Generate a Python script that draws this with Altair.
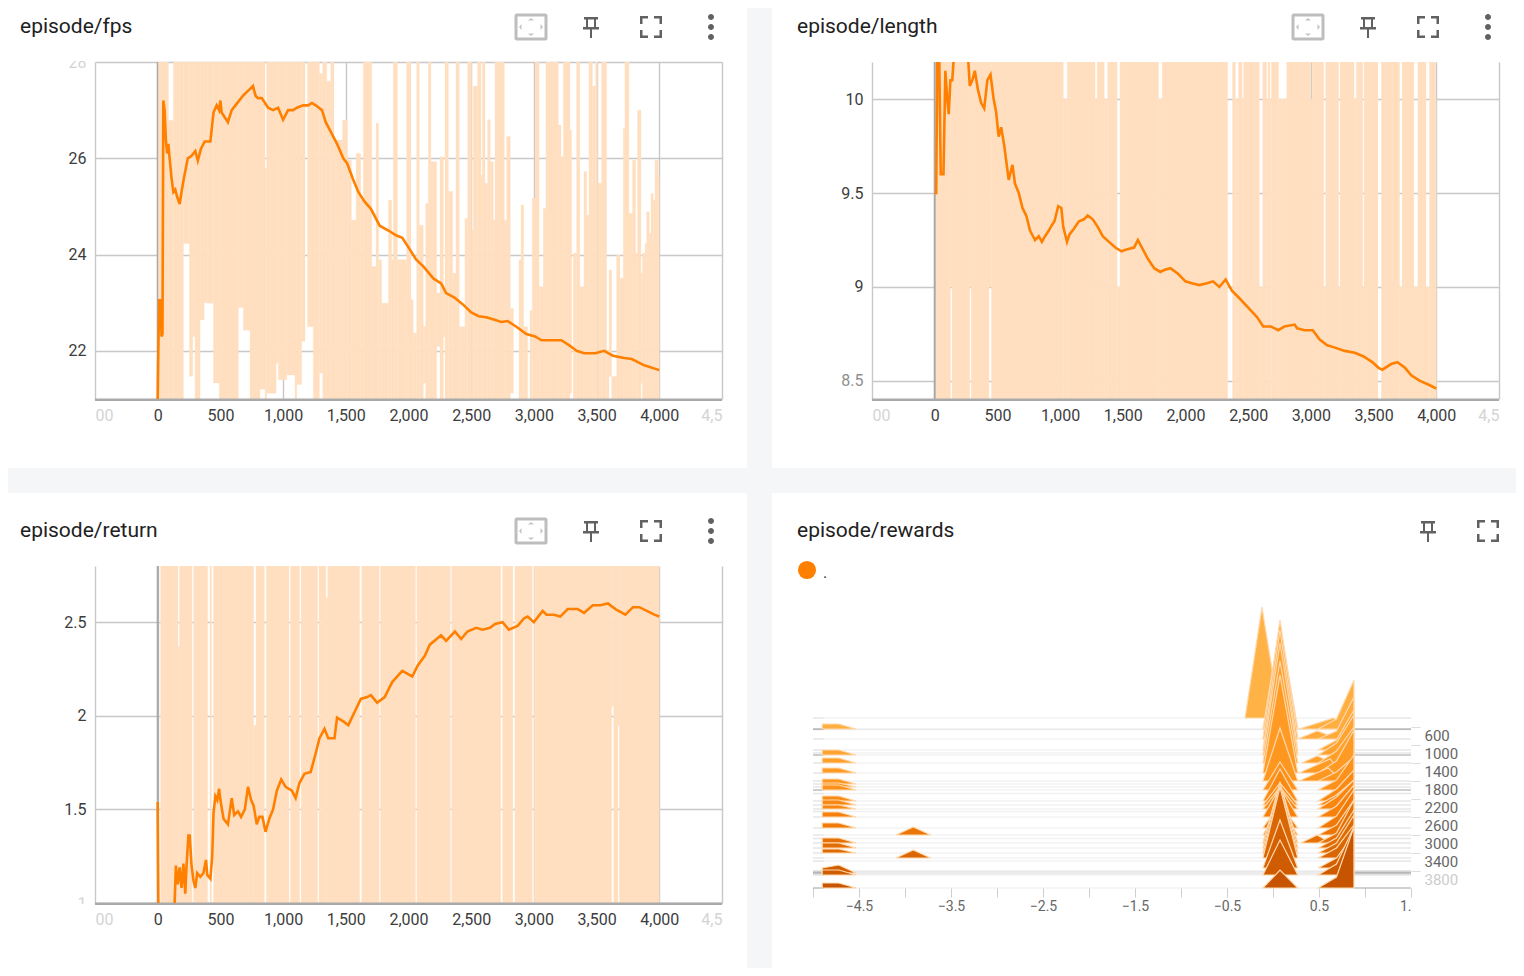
import altair as alt
import pandas as pd

FONT = "Roboto"
ORANGE = "#ff8000"
PALE = "#ffdfc0"
GRID = "#c8c8c8"
GAP = "#f5f6f7"

# ---------- smoothed lines (step, value) ----------
FPS_LINE = [(0,21.0),(5,22.0),(12,23.05),(25,23.05),(30,22.3),(38,22.35),(45,27.2),(55,27.0),(65,26.4),(75,26.1),(85,26.3),(95,26.0),(110,25.6),(125,25.3),(140,25.35),(155,25.2),(175,25.05),(190,25.3),(210,25.6),(240,26.0),(270,26.05),(300,26.15),(320,25.95),(345,26.2),(375,26.35),(420,26.35),(445,26.95),(470,27.1),(490,27.0),(500,27.2),(510,26.95),(560,26.75),(590,27.0),(620,27.1),(680,27.3),(720,27.4),(760,27.5),(780,27.3),(800,27.25),(830,27.25),(880,27.05),(920,27.0),(960,27.05),(1000,26.8),(1040,27.0),(1080,27.0),(1110,27.05),(1160,27.1),(1200,27.1),(1230,27.15),(1260,27.1),(1310,27.0),(1340,26.75),(1390,26.5),(1430,26.3),(1480,26.0),(1510,25.9),(1560,25.55),(1600,25.3),(1650,25.1),(1700,24.95),(1770,24.6),(1840,24.5),(1900,24.4),(1950,24.35),(2000,24.15),(2060,23.9),(2120,23.75),(2200,23.5),(2260,23.4),(2300,23.2),(2370,23.1),(2440,22.95),(2500,22.8),(2560,22.72),(2620,22.7),(2680,22.65),(2740,22.6),(2790,22.62),(2860,22.5),(2940,22.35),(3010,22.3),(3060,22.22),(3130,22.22),(3220,22.22),(3290,22.1),(3340,22.0),(3400,21.95),(3490,21.95),(3560,22.0),(3630,21.9),(3720,21.85),(3780,21.83),(3880,21.7),(4000,21.6)]
LEN_LINE = [(0,9.5),(12,9.5),(22,10.3),(35,10.3),(48,9.6),(70,9.6),(85,10.15),(100,10.0),(112,9.92),(125,10.1),(140,10.1),(150,10.2),(160,10.3),(250,10.3),(268,10.2),(280,10.07),(300,10.1),(320,10.15),(345,10.05),(370,9.98),(395,9.95),(420,10.1),(445,10.13),(470,10.0),(490,9.93),(510,9.8),(530,9.85),(555,9.75),(590,9.57),(620,9.65),(640,9.55),(670,9.5),(700,9.42),(730,9.38),(760,9.3),(800,9.25),(830,9.27),(855,9.24),(880,9.27),(910,9.3),(935,9.33),(955,9.35),(985,9.43),(1010,9.42),(1025,9.32),(1055,9.24),(1075,9.28),(1110,9.31),(1150,9.35),(1190,9.36),(1220,9.38),(1260,9.36),(1300,9.32),(1340,9.27),(1390,9.24),(1440,9.21),(1490,9.19),(1530,9.2),(1590,9.21),(1620,9.25),(1660,9.2),(1700,9.15),(1750,9.1),(1800,9.08),(1830,9.09),(1880,9.1),(1940,9.07),(2000,9.03),(2050,9.02),(2110,9.01),(2170,9.02),(2220,9.03),(2270,9.0),(2320,9.04),(2370,8.98),(2430,8.94),(2500,8.89),(2570,8.84),(2620,8.79),(2680,8.79),(2740,8.77),(2790,8.79),(2870,8.8),(2890,8.78),(2950,8.77),(3015,8.77),(3070,8.72),(3130,8.69),(3180,8.68),(3270,8.66),(3350,8.65),(3420,8.63),(3490,8.6),(3540,8.57),(3570,8.56),(3640,8.59),(3690,8.6),(3750,8.57),(3800,8.53),(3870,8.5),(3940,8.48),(4000,8.46)]
RET_LINE = [(0,1.54),(6,0.9),(125,0.9),(135,1.0),(145,1.2),(160,1.1),(175,1.19),(190,1.08),(205,1.21),(220,1.05),(230,1.2),(245,1.36),(255,1.36),(270,1.2),(285,1.12),(300,1.08),(315,1.16),(340,1.14),(365,1.16),(385,1.23),(395,1.15),(420,1.13),(435,1.25),(445,1.48),(460,1.57),(475,1.55),(490,1.61),(500,1.55),(525,1.45),(560,1.42),(590,1.56),(610,1.47),(640,1.49),(665,1.46),(695,1.5),(720,1.62),(745,1.55),(765,1.52),(790,1.42),(810,1.46),(835,1.46),(860,1.38),(890,1.45),(920,1.5),(950,1.6),(985,1.66),(1020,1.62),(1070,1.6),(1100,1.56),(1130,1.64),(1170,1.69),(1220,1.7),(1260,1.8),(1290,1.88),(1330,1.93),(1360,1.88),(1410,1.88),(1430,1.99),(1480,1.97),(1520,1.95),(1570,2.02),(1620,2.09),(1670,2.1),(1700,2.11),(1750,2.07),(1810,2.1),(1870,2.18),(1950,2.24),(2030,2.21),(2075,2.27),(2130,2.32),(2170,2.38),(2260,2.43),(2300,2.4),(2370,2.45),(2420,2.41),(2470,2.45),(2540,2.47),(2590,2.46),(2650,2.47),(2690,2.49),(2750,2.5),(2800,2.46),(2870,2.48),(2920,2.52),(2950,2.53),(3000,2.5),(3070,2.56),(3100,2.54),(3160,2.54),(3210,2.53),(3270,2.57),(3350,2.57),(3400,2.55),(3470,2.59),(3530,2.59),(3590,2.6),(3650,2.57),(3730,2.54),(3790,2.58),(3840,2.58),(3900,2.56),(3960,2.54),(4000,2.53)]

# ---------- raw (unsmoothed) envelope: from step, to step, high, low ----------
FPS_RAW = [(5,85,29,20),(85,125,26.79,20),(125,205,29,20),(205,253,29,24.23),(253,279,29,21.47),(279,298,29,22.3),(298,338,29,20),(338,370,29,22.64),(370,396,29,23.0),(396,444,29,22.99),(444,492,29,21.33),(492,643,29,20),(643,683,29,22.9),(683,736,29,22.43),(736,816,29,20),(816,856,29,21.2),(856,869,25.8,21),(869,944,29,21.12),(944,962,29,21.74),(962,1029,29,21.4),(1029,1095,29,21.5),(1095,1109,29,21.0),(1109,1148,29,21.3),(1148,1175,29,22.2),(1194,1241,29,22.5),(1241,1289,29,20),(1289,1316,27.76,21.54),(1316,1348,29,20),(1348,1380,27.6,20),(1380,1406,29,20),(1406,1475,26.38,20),(1475,1513,26.79,20),(1513,1544,25.96,20),(1544,1582,24.72,20),(1582,1619,26.1,20),(1619,1640,25.13,20),(1640,1707,29,20),(1707,1741,23.75,20),(1741,1762,26.73,20),(1762,1786,23.89,20),(1786,1840,22.99,20),(1840,1866,25.13,20),(1866,1879,23.89,20),(1879,1911,29,20),(1911,1985,23.89,20),
(1985,2020,29,20),(2020,2038,23.06,20),(2038,2065,22.37,20),(2065,2086,29,20),(2086,2118,24.61,20),(2118,2137,22.5,21.33),(2137,2158,25.06,20),(2158,2179,29,20),(2179,2225,25.93,20),(2225,2251,23.2,22.09),(2251,2278,26.03,20),(2278,2291,23.33,22.3),(2291,2318,29,20),(2318,2352,25.31,20),(2352,2379,23.61,20),(2379,2405,29,20),(2405,2450,22.5,20),(2450,2472,24.75,20),(2472,2504,29,20),(2504,2517,24.51,20),(2517,2551,27.5,20),(2551,2578,29,20),(2578,2589,25.65,20),(2589,2610,29,20),(2610,2631,25.48,20),(2631,2652,26.8,20),(2652,2676,25.93,20),(2676,2690,24.72,20),(2690,2764,29,20),(2764,2783,24.72,20),(2783,2812,26.45,20),(2812,2836,22.88,21.12),(2881,2897,23.89,20),(2897,2918,25.03,20),(2918,2950,22.5,20),(2969,2987,22.84,20),(2987,3009,25.17,20),(3009,3041,29,20),(3041,3075,23.33,20),(3075,3096,24.96,20),(3096,3195,29,20),(3195,3216,26.69,20),(3216,3235,26.03,20),(3235,3288,29,20),(3288,3301,26.59,21.12),(3314,3341,24.03,20),(3341,3367,29,20),(3367,3399,23.33,20),(3399,3421,25.72,20),(3421,3439,24.82,20),(3439,3466,29,20),(3466,3492,27.5,20),(3492,3508,29,20),(3508,3540,25.48,20),(3540,3580,29,20),(3580,3599,22.02,20),(3599,3620,23.68,21.47),(3620,3660,21.47,20),(3660,3686,23.99,20),(3686,3713,23.51,20),(3713,3726,26.62,20),(3726,3758,29,20),(3758,3787,24.86,20),(3787,3811,25.96,20),(3811,3827,24.03,20),(3827,3854,27.0,20),(3854,3865,23.61,21.33),(3865,3886,24.03,20),(3886,3899,24.23,20),(3899,3920,24.89,20),(3920,3934,24.44,20),(3934,3952,25.27,20),(3952,3966,25.13,20),(3966,3992,25.96,20),(3992,4000,25.62,20)]

# breaks in the raw envelope: from step, to step, lowest and highest value left empty
LEN_BREAKS = [(126,138,8,9),(280,291,8,9),(433,452,8,9),(1026,1057,10,11),(1279,1295,10,11),(1352,1379,10,11),(1455,1478,9,11),(1785,1815,10,11),(2336,2375,8,11),(2398,2424,10,11),(2451,2463,10,11),(2589,2616,9,11),(2647,2658,10,11),(2673,2685,10,11),(2742,2807,10,11),(2999,3010,10,11),(3102,3118,9,11),(3221,3233,9,11),(3344,3363,10,11),(3413,3424,9,11),(3535,3562,8,11),(3707,3727,9,11),(3822,3853,9,11),(3918,3945,9,11),(3995,4000,10,11)]
RET_BREAKS = [(162,174,2.37,3.5),(274,286,0.5,3.5),(398,417,0.5,3.5),(429,444,0.5,3.5),(765,784,1.95,3.5),(850,866,0.5,3.5),(1047,1059,0.5,3.5),(1132,1144,0.5,3.5),(1275,1286,0.5,3.5),(1341,1356,2.63,3.5),(1611,1627,0.5,3.5),(1766,1777,0.5,3.5),(2056,2067,0.5,3.5),(2334,2345,0.5,3.5),(2736,2751,0.5,3.5),(2832,2848,0.5,3.5),(2987,3002,0.5,3.5),(3620,3636,0.5,2.05),(3670,3682,0.5,1.95)]

# ---------- histogram values ----------
HIST_STEPS  = [467,689,933,1044,1222,1444,1622,1822,2067,2156,2244,2422,2667,2822,3000,3111,3222,3333,3556,3711,4000]
CENTER      = [105,119,120,112,102,98,53,28,32,22,22,30,25,30,60,65,65,71,48,35,18]
RIGHT_KINK  = [10,8,10,12,12,12,9,10,12,10,12,11,12,10,10,10,10,10,10,11,11]
RIGHT_PEAK  = [49,42,40,40,36,43,24,35,31,25,29,32,38,35,43,38,38,33,34,48,61]
SPIKE       = (222, -0.304, -0.12, 0.076, 111)
SHOULDERS   = [(467,0.28,0.66,0.8,11),(689,0.27,0.48,0.72,8),(1222,0.31,0.48,0.66,7),(1444,0.28,0.62,0.75,14),(1622,0.28,0.6,0.75,13),(3000,0.3,0.48,0.63,8)]
LEFT_STEPS  = [467,1044,1222,1444,1689,1756,1822,2067,2156,2244,2422,2667,3000,3111,3222,3667,3711,4000]
LEFT_H      = [5,5,5,5,5,4,5,5,5,4,5,5,5,5,4,8,5,5]
THIRD_STEPS = [2822,3333]
THIRD_H     = [8,8]
FAINT_STEPS = [222,467,478,689,933,1000,1044,1222,1444,1622,1689,1756,1822,1900,2067,2156,2244,2300,2422,2667,2822,2900,3000,3111,3222,3333,3400,3620,3640,3667,3680,3711,4000]
DARK_STEPS  = [467,1044,1822,3660,4000]
RIGHT_LABELS = [600,1000,1400,1800,2200,2600,3000,3400,3800]

X_TICKS = [-500,0,500,1000,1500,2000,2500,3000,3500,4000,4500]

PATH_FIT = "M-14,-12H14Q15,-12 15,-11V11Q15,12 14,12H-14Q-15,12 -15,11V-11Q-15,-12 -14,-12Z"
PATH_FIT_ARROWS = "M-3,-6.5L3,-6.5L0,-9ZM-3,6.5L3,6.5L0,9ZM-9.5,-3L-9.5,3L-12,0ZM9.5,-3L9.5,3L12,0Z"
PATH_PIN = "M-7,-10H7V-7.5H5V0H8V2.5H1V11H-1V2.5H-8V0H-5V-7.5H-7ZM-3,-7.5V0H3V-7.5Z"
PATH_FULL = "M-11,-11H-3V-8.5H-8.5V-3H-11ZM3,-11H11V-3H8.5V-8.5H3ZM-11,3H-8.5V8.5H-3V11H-11ZM8.5,3H11V11H3V8.5H8.5Z"
PATH_DOTS = "M-3,-10a3,3 0 1,0 6,0a3,3 0 1,0 -6,0ZM-3,0a3,3 0 1,0 6,0a3,3 0 1,0 -6,0ZM-3,10a3,3 0 1,0 6,0a3,3 0 1,0 -6,0Z"

ONE = pd.DataFrame({"t": [""]})


def icon(path, x, y, color="#616161", stroke=False):
    if stroke:
        m = alt.Chart(ONE).mark_point(shape=path, size=4, filled=False, stroke=color, strokeWidth=3, opacity=1)
    else:
        m = alt.Chart(ONE).mark_point(shape=path, size=4, filled=True, fill=color, strokeWidth=0, opacity=1)
    return m.encode(x=alt.value(x), y=alt.value(y))


def box(x0, x1, y0, y1, color):
    return alt.Chart(ONE).mark_rect(color=color).encode(
        x=alt.value(x0), x2=alt.value(x1), y=alt.value(y0), y2=alt.value(y1))


def title_mark(text):
    return alt.Chart(pd.DataFrame({"t": [text]})).mark_text(
        align="left", baseline="middle", font=FONT, fontSize=21, color="#212121"
    ).encode(x=alt.value(-75), y=alt.value(-35), text="t:N")


def split_breaks(start, end, lo, hi, breaks):
    rows, cur = [], start
    for a, b, gl, gh in breaks:
        if a > cur:
            rows.append((cur, a, hi, lo))
        if gl > lo:
            rows.append((a, b, gl, lo))
        if gh < hi:
            rows.append((a, b, hi, gh))
        cur = b
    if cur < end:
        rows.append((cur, end, hi, lo))
    return rows


def faded_color(faded):
    return "#d4d4d4" if faded and faded != [8.5] else "#8f8f8f"


def scalar_panel(title, line, raw, y_domain, y_ticks, faded):
    xs = alt.Scale(domain=[-500, 4500], nice=False)
    ys = alt.Scale(domain=y_domain, nice=False, zero=False)
    x_axis = alt.Axis(
        values=X_TICKS, title=None, grid=True, gridColor=GRID, gridWidth=1.4,
        domain=False, ticks=False, labelPadding=8, labelFontSize=16,
        labelFont=FONT, labelOverlap=False, labelFlush=False, labelBound=False,
        labelExpr="datum.value==-500?'00':datum.value==4500?'4,5':format(datum.value,',')",
        labelColor={"condition": {"test": "datum.value<0||datum.value>4000", "value": "#d4d4d4"}, "value": "#3c3c3c"},
        labelAlign={"condition": [{"test": "datum.value<0", "value": "left"},
                                  {"test": "datum.value>4000", "value": "right"}], "value": "center"},
    )
    fade_test = "||".join(f"datum.value=={v}" for v in faded) or "false"
    y_axis = alt.Axis(
        values=y_ticks, title=None, grid=True, gridColor=GRID, gridWidth=1.4, domain=False, ticks=False,
        labelPadding=9, labelFontSize=16, labelFont=FONT, labelOverlap=False, labelFlush=False,
        format="~g", labelBound=False,
        labelColor={"condition": {"test": fade_test, "value": faded_color(faded)}, "value": "#3c3c3c"},
    )
    raw_df = pd.DataFrame(raw, columns=["x0", "x1", "hi", "lo"])
    line_df = pd.DataFrame(line, columns=["step", "value"])
    band = alt.Chart(raw_df).mark_rect(clip=True, color=PALE, stroke=PALE, strokeWidth=0.3).encode(
        x=alt.X("x0:Q", scale=xs, axis=x_axis), x2="x1:Q",
        y=alt.Y("lo:Q", scale=ys, axis=y_axis), y2="hi:Q")
    zero = alt.Chart(pd.DataFrame({"z": [0]})).mark_rule(color="#a8a8a8", size=2).encode(
        x=alt.X("z:Q", scale=xs, axis=x_axis))
    curve = alt.Chart(line_df).mark_line(clip=True, color=ORANGE, strokeWidth=2.6).encode(
        x=alt.X("step:Q", scale=xs, axis=x_axis),
        y=alt.Y("value:Q", scale=ys, axis=y_axis))
    return [zero, band, box(0, 627, 336.5, 339, "#aaaaaa"), curve, title_mark(title),
            icon(PATH_FIT, 436, -35, "#bdbdbd", stroke=True), icon(PATH_FIT_ARROWS, 436, -35, "#c4c4c4"),
            icon(PATH_PIN, 496, -35), icon(PATH_FULL, 556, -35), icon(PATH_DOTS, 616, -35)]


# ---------- panels ----------
p1_layers = scalar_panel("episode/fps", FPS_LINE, FPS_RAW, [21, 28], [22, 24, 26, 28], [28])
p1 = alt.layer(
    *p1_layers,
    box(-45, -2, -12, -1, "white"),
    box(652, 677, -54, 906, GAP),
    box(-87, 1421, 406, 431, GAP),
).properties(width=627, height=337)

p2_layers = scalar_panel("episode/length", LEN_LINE, split_breaks(10, 4000, 8, 11, LEN_BREAKS),
                         [8.404, 10.197], [8.5, 9, 9.5, 10], [8.5])
p2 = alt.layer(*p2_layers).properties(width=627, height=337)

p3_layers = scalar_panel("episode/return", RET_LINE, split_breaks(23, 4000, 0.5, 3.5, RET_BREAKS),
                         [1.0, 2.8], [1, 1.5, 2, 2.5], [1])
p3 = alt.layer(*p3_layers, box(-45, -2, 338, 352, "white")).properties(width=627, height=337)

# histogram polygons
rows = []


def hump(key, step, pts):
    for x, c in pts:
        rows.append({"key": key, "step": step, "x": x, "count": c})


hump("s", SPIKE[0], [(SPIKE[1], 0), (SPIKE[2], SPIKE[4]), (SPIKE[3], 0)])
for s, h in zip(LEFT_STEPS, LEFT_H):
    hump(f"l{s}", s, [(-4.9, min(h, 5)), (-4.72, h), (-4.53, 0)])
for s, h in zip(THIRD_STEPS, THIRD_H):
    hump(f"t{s}", s, [(-4.1, 0), (-3.91, h), (-3.72, 0)])
for s, a, m, b, h in SHOULDERS:
    hump(f"u{s}", s, [(a, 0), (m, h), (b, 0)])
for s, c in zip(HIST_STEPS, CENTER):
    hump(f"c{s}", s, [(-0.11, 0), (0.076, c), (0.27, 0)])
for s, k, p in zip(HIST_STEPS, RIGHT_KINK, RIGHT_PEAK):
    hump(f"r{s}", s, [(0.49, 0), (0.69, k), (0.88, p)])
hist_df = pd.DataFrame(rows).sort_values("step", kind="stable")

rule_rows = [{"step": s, "x0": -5, "x1": 1.5, "op": 0.05} for s in FAINT_STEPS]
rule_rows += [{"step": s, "x0": x0, "x1": x1, "op": 0.05} for s in FAINT_STEPS for x0, x1 in [(-5, -4.88), (0.88, 1.5)]]
rule_rows += [{"step": s, "x0": x0, "x1": x1, "op": 0.16} for s in DARK_STEPS for x0, x1 in [(-5, -4.88), (0.88, 1.5)]]
rule_df = pd.DataFrame(rule_rows)

hx = alt.Scale(domain=[-5, 1.5], range=[-59, 539], nice=False, zero=False)
hy = alt.Scale(domain=[0, 4000], range=[142, 322], nice=False, zero=False)
hx_axis = alt.Axis(
    values=[-5 + 0.5 * i for i in range(14)], title=None, grid=False, domain=False, offset=-15,
    tickColor="#cfcfcf", tickSize=9, labelPadding=2, labelFont=FONT, labelFontSize=14, labelColor="#666666",
    labelOverlap=False, labelFlush=False, labelBound=False,
    labelExpr="datum.value==1.5?'1.':(datum.value*2%2!=0&&datum.value<1)?format(datum.value,'.1f'):''",
    labelAlign={"condition": {"test": "datum.value==1.5", "value": "right"}, "value": "center"},
)
hy_axis = alt.Axis(
    values=RIGHT_LABELS, title=None, grid=False, domain=False, orient="right", offset=-88, format="d",
    tickColor="#dddddd", tickSize=9, tickOffset=-8, labelOffset=8, labelPadding=4, labelFont=FONT, labelFontSize=15,
    labelOverlap=False, labelFlush=False, labelBound=False,
    labelColor={"condition": {"test": "datum.value==3800", "value": "#cccccc"}, "value": "#666666"},
)
rules = alt.Chart(rule_df).mark_rule(color="#000000", size=1.6).encode(
    x=alt.X("x0:Q", scale=hx, axis=hx_axis), x2="x1:Q",
    y=alt.Y("step:Q", scale=hy, axis=hy_axis), opacity=alt.Opacity("op:Q", scale=None))
areas = alt.Chart(hist_df).transform_calculate(top="datum.step - datum.count * 22.22").mark_area(
    stroke="#ffd9ae", strokeWidth=1.2, opacity=1, interpolate="linear"
).encode(
    x=alt.X("x:Q", scale=hx, axis=hx_axis),
    y=alt.Y("top:Q", scale=hy, axis=hy_axis), y2="step:Q",
    detail="key:N",
    fill=alt.Fill("step:Q", legend=None, scale=alt.Scale(
        domain=[222, 1500, 2500, 4000], range=["#ffb347", "#ff9a22", "#f57f0a", "#c65400"])),
)
dot = alt.Chart(ONE).mark_point(filled=True, size=330, color=ORANGE, opacity=1).encode(
    x=alt.value(-65), y=alt.value(4))
dot_text = alt.Chart(pd.DataFrame({"t": ["."]})).mark_text(
    align="left", baseline="middle", font=FONT, fontSize=16, color="#333333"
).encode(x=alt.value(-49), y=alt.value(7), text="t:N")

p4 = alt.layer(rules, areas, title_mark("episode/rewards"), icon(PATH_PIN, 556, -35), icon(PATH_FULL, 616, -35),
               dot, dot_text).properties(width=627, height=337)

chart = alt.concat(p1, p2, p3, p4, columns=2, spacing={"row": 167, "column": 150},
                   bounds="flush", padding=0, background="white").configure_view(stroke=None)

chart.save("out.html", embed_options={"renderer": "svg", "actions": False})
